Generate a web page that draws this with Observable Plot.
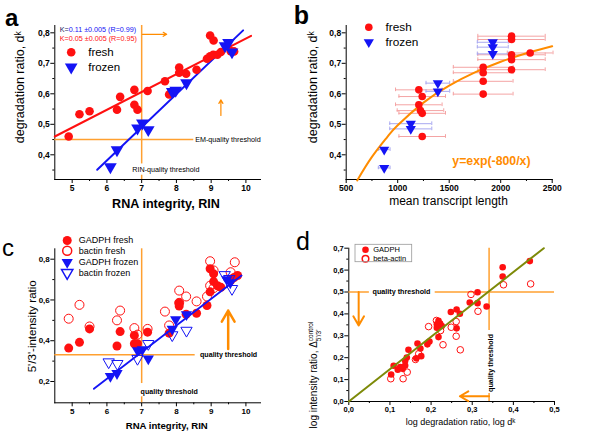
<!DOCTYPE html>
<html><head><meta charset="utf-8">
<script src="https://cdn.jsdelivr.net/npm/d3@7"></script>
<script src="https://cdn.jsdelivr.net/npm/@observablehq/plot@0.6"></script>
<style>
html,body{margin:0;padding:0;background:#fff;}
#fig{position:relative;width:600px;height:435px;overflow:hidden;background:#fff;}
#fig svg{overflow:visible;}
</style></head><body><div id="fig"></div>
<script>
// ---------- Panel a: degradation ratio vs RIN ----------
const aFreshRIN = [4.9,5.21,5.5,6.29,6.38,6.79,6.79,6.88,7.17,7.67,7.79,8.08,8.08,8.28,8.58,8.88,8.97,9.07,8.97,9.06,9.18,9.28,9.56,9.66];
const aFreshD   = [0.46,0.533,0.543,0.548,0.59,0.613,0.564,0.548,0.609,0.641,0.598,0.686,0.669,0.666,0.679,0.715,0.791,0.775,0.723,0.728,0.728,0.737,0.74,0.739];
const aFrozenRIN = [6.1,6.29,6.88,7.02,7.19,7.88,7.98,8.29,9.4,9.5,9.6];
const aFrozenD   = [0.36,0.416,0.487,0.504,0.482,0.607,0.611,0.636,0.757,0.768,0.737];
const aFitFreshX = [4.5,10.15], aFitFreshY = [0.46,0.79];
const aFitFrozenX = [5.72,9.92], aFitFrozenY = [0.351,0.808];
const aRinThreshold = 7, aEmThreshold = 0.45;
const aFitLabels = ["K=", "0.11 \u00b10.005 (R=0.99)", "K=0.05 \u00b10.005 (R=0.95)"];
const aXTicks = [5,6,7,8,9,10], aYTicks = [0.4,0.5,0.6,0.7,0.8];

// ---------- Panel b: degradation ratio vs mean transcript length ----------
const bFreshLen = [2105,2105,2286,2105,2105,2105,1830,1830,1830,1830,1205,1238,1205,1221,1238,1238];
const bFreshD   = [0.789,0.778,0.734,0.728,0.712,0.679,0.687,0.669,0.641,0.599,0.613,0.591,0.564,0.545,0.536,0.46];
const bFreshErr = [327,327,222,327,327,327,290,290,290,290,226,226,226,226,226,226];
const bFrozenLen = [1923,1923,1923,1390,1390,1127,1127,869,869];
const bFrozenD   = [0.769,0.753,0.731,0.635,0.608,0.502,0.485,0.417,0.357];
const bFrozenErr = [150,150,150,115,115,204,204,57,57];
const bCurveLen = [607,750,900,1000,1250,1500,1750,2000,2250,2500];
const bCurveD   = [0.316,0.393,0.459,0.497,0.571,0.627,0.670,0.705,0.733,0.756];
const bXTicks = [500,1000,1500,2000,2500], bYTicks = [0.4,0.5,0.6,0.7,0.8];

// ---------- Panel c: 5'/3' intensity ratio vs RIN ----------
const cGapdhFreshRIN = [4.9,5.21,5.5,6.29,6.38,6.79,6.88,6.79,7.17,7.79,8.08,8.08,8.28,8.58,8.88,8.97,9.07,8.97,9.07,9.18,9.28,9.56,9.66,9.76];
const cGapdhFreshR   = [0.364,0.392,0.458,0.374,0.445,0.385,0.385,0.426,0.442,0.437,0.57,0.586,0.53,0.535,0.573,0.753,0.728,0.64,0.69,0.67,0.662,0.695,0.71,0.72];
const cBactinFreshRIN = [4.9,5.21,5.5,6.29,6.38,6.79,6.88,7.17,7.67,7.79,8.08,8.08,8.28,8.58,8.88,8.97,9.07,8.97,9.07,9.56,9.68];
const cBactinFreshR   = [0.508,0.576,0.47,0.5,0.548,0.462,0.43,0.458,0.543,0.475,0.646,0.586,0.617,0.593,0.617,0.79,0.745,0.67,0.658,0.736,0.785];
const cGapdhFrozenRIN = [6.1,6.29,6.88,7.02,7.19,7.88,7.98,8.29,9.45,9.55];
const cGapdhFrozenR   = [0.226,0.24,0.352,0.357,0.312,0.458,0.504,0.529,0.7,0.685];
const cBactinFrozenRIN = [6.05,6.3,6.88,7.19,7.88,8.29,9.39,9.52,9.6];
const cBactinFrozenR   = [0.295,0.287,0.312,0.385,0.428,0.45,0.723,0.704,0.655];
const cFitX = [5.625,9.875], cFitY = [0.164,0.72];
const cRinThreshold = 7, cRatioThreshold = 0.331;
const cXTicks = [5,6,7,8,9,10], cYTicks = [0.2,0.4,0.6,0.8];

// ---------- Panel d: log intensity ratio vs log degradation ratio ----------
const dGapdhX = [0.103,0.109,0.119,0.125,0.131,0.137,0.137,0.141,0.145,0.164,0.167,0.174,0.176,0.191,0.196,0.214,0.218,0.222,0.226,0.214,0.218,0.248,0.262,0.270,0.262,0.294,0.313,0.313,0.335,0.374,0.374,0.440];
const dGapdhY = [0.123,0.163,0.145,0.157,0.149,0.164,0.186,0.201,0.236,0.197,0.265,0.242,0.207,0.261,0.274,0.353,0.368,0.356,0.345,0.337,0.294,0.409,0.42,0.401,0.334,0.452,0.449,0.499,0.434,0.571,0.613,0.641];
const dActinX = [0.102,0.132,0.142,0.162,0.170,0.194,0.213,0.223,0.229,0.249,0.261,0.261,0.271,0.297,0.314,0.376,0.442];
const dActinY = [0.104,0.104,0.134,0.192,0.218,0.342,0.37,0.324,0.259,0.339,0.365,0.298,0.236,0.489,0.412,0.533,0.537];
const dFitX = [0,0.474], dFitY = [0,0.7];
const dXThreshold = 0.341, dYThreshold = 0.5;
const dXTicks = [0,0.1,0.2,0.3,0.4,0.5], dYTicks = [0,0.1,0.2,0.3,0.4,0.5,0.6,0.7];

// ---------- styling ----------
const FONT = '"Liberation Sans", Arial, Helvetica, sans-serif';
const RED = "#ff1010", BLUE = "#1414f5", ORANGE = "#ffa030", ARROW = "#ff8c00", OLIVE = "#7d8a08";
const comma = d => d.toFixed(1).replace(".", ",");
const fig = document.getElementById("fig");

function axes(xT, xM, yT, yM, xFmt, yFmt, fs) {
  return [
    Plot.axisX(xM, {tickSize: 2, tickFormat: () => "", label: null}),
    Plot.axisY(yM, {tickSize: 2, tickFormat: () => "", label: null}),
    Plot.axisX(xT, {tickSize: 4, tickPadding: 1.5, tickFormat: xFmt, fontSize: fs, fontWeight: "bold", label: null}),
    Plot.axisY(yT, {tickSize: 4, tickPadding: 1, tickFormat: yFmt, fontSize: fs, fontWeight: "bold", label: null}),
    Plot.frame({anchor: "bottom"}),
    Plot.frame({anchor: "left"})
  ];
}
function place(svg, left, top) {
  svg.style.position = "absolute";
  svg.style.left = left + "px";
  svg.style.top = top + "px";
  fig.appendChild(svg);
  return svg;
}
function letter(svg, txt, x, y, size, weight) {
  d3.select(svg).append("text").attr("x", x).attr("y", y)
    .attr("font-family", FONT).attr("font-size", size).attr("font-weight", weight)
    .attr("fill", "black").text(txt);
}
const tri = {symbol: "triangle", rotate: 180};

// ---------- Panel a ----------
const svgA = Plot.plot({
  width: 300, height: 215,
  marginLeft: 54.3, marginRight: 40, marginTop: 25, marginBottom: 36,
  x: {domain: [4.5, 10.42]}, y: {domain: [0.319, 0.824]},
  style: {fontFamily: FONT, background: "none", color: "black"},
  marks: [
    ...axes(aXTicks, [5.5,6.5,7.5,8.5,9.5], aYTicks, [0.35,0.45,0.55,0.65,0.75], d => String(d), comma, 8.5),
    Plot.ruleX([aRinThreshold], {y1: 0.37, y2: 0.824, stroke: ORANGE, strokeWidth: 1.5}),
    Plot.ruleX([aRinThreshold], {y1: 0.319, y2: 0.333, stroke: ORANGE, strokeWidth: 1.5}),
    Plot.ruleY([aEmThreshold], {x1: 4.5, x2: 8.5, stroke: ORANGE, strokeWidth: 1.5}),
    Plot.text(["EM-quality threshold"], {x: 8.54, y: aEmThreshold, textAnchor: "start", lineAnchor: "middle", fontSize: 7.2}),
    Plot.text(["RIN-quality threshold"], {x: 6.73, y: 0.351, textAnchor: "start", lineAnchor: "middle", fontSize: 7.2}),
    Plot.arrow([0], {x1: 7.02, y1: 0.795, x2: 7.72, y2: 0.795, stroke: ARROW, strokeWidth: 1.2, headLength: 5}),
    Plot.arrow([0], {x1: 9.28, y1: 0.529, x2: 9.28, y2: 0.58, stroke: ARROW, strokeWidth: 1.2, headLength: 5}),
    Plot.line(aFitFreshX, {x: aFitFreshX, y: aFitFreshY, stroke: RED, strokeWidth: 2}),
    Plot.line(aFitFrozenX, {x: aFitFrozenX, y: aFitFrozenY, stroke: BLUE, strokeWidth: 2}),
    Plot.dot(aFreshRIN, {x: aFreshRIN, y: aFreshD, r: 4.3, fill: RED}),
    Plot.dot(aFrozenRIN, {x: aFrozenRIN, y: aFrozenD, r: 4.7, fill: BLUE, ...tri}),
    Plot.dot([0], {frameAnchor: "top-left", dx: 16.4, dy: 26.7, r: 4.3, fill: RED}),
    Plot.dot([0], {frameAnchor: "top-left", dx: 16.4, dy: 41.7, r: 4.7, fill: BLUE, ...tri}),
    Plot.text(["fresh"], {frameAnchor: "top-left", dx: 33.4, dy: 26.7, textAnchor: "start", lineAnchor: "middle", fontSize: 11.5}),
    Plot.text(["frozen"], {frameAnchor: "top-left", dx: 33.4, dy: 41.7, textAnchor: "start", lineAnchor: "middle", fontSize: 11.5}),
    Plot.text([aFitLabels[0]], {frameAnchor: "top-left", dx: 5, dy: 4.3, textAnchor: "start", lineAnchor: "middle", fontSize: 7.2, fill: "#1c1c5c"}),
    Plot.text([aFitLabels[1]], {frameAnchor: "top-left", dx: 13.9, dy: 4.3, textAnchor: "start", lineAnchor: "middle", fontSize: 7.2, fill: BLUE}),
    Plot.text([aFitLabels[2]], {frameAnchor: "top-left", dx: 5, dy: 13.3, textAnchor: "start", lineAnchor: "middle", fontSize: 7.2, fill: RED}),
    Plot.text(["degradation ratio, d\u1d4f"], {frameAnchor: "left", rotate: -90, dx: -35.3, dy: -15.3, textAnchor: "middle", lineAnchor: "middle", fontSize: 12.5}),
    Plot.text(["RNA integrity, RIN"], {frameAnchor: "bottom", dx: 8.3, dy: 28.3, textAnchor: "middle", lineAnchor: "bottom", fontSize: 12.6, fontWeight: "bold"})
  ]
});
place(svgA, 0, 0);
letter(svgA, "a", 11.7, 26, 24, "bold");

// ---------- Panel b ----------
const bFreshLo = bFreshLen.map((v, i) => v - bFreshErr[i]), bFreshHi = bFreshLen.map((v, i) => v + bFreshErr[i]);
const bFrozenLo = bFrozenLen.map((v, i) => v - bFrozenErr[i]), bFrozenHi = bFrozenLen.map((v, i) => v + bFrozenErr[i]);
const capF = [...bFreshLo, ...bFreshHi], capFy = [...bFreshD, ...bFreshD];
const capZ = [...bFrozenLo, ...bFrozenHi], capZy = [...bFrozenD, ...bFrozenD];
const svgB = Plot.plot({
  width: 300, height: 215,
  marginLeft: 45.7, marginRight: 48.3, marginTop: 25, marginBottom: 36,
  x: {domain: [500, 2500]}, y: {domain: [0.319, 0.824]},
  style: {fontFamily: FONT, background: "none", color: "black"},
  marks: [
    ...axes(bXTicks, [750,1250,1750,2250], bYTicks, [0.35,0.45,0.55,0.65,0.75], d => String(d), comma, 8.5),
    Plot.ruleY(bFreshD, {y: bFreshD, x1: bFreshLo, x2: bFreshHi, stroke: "#f4a4a4", strokeWidth: 1}),
    Plot.ruleX(capF, {x: capF, y1: capFy.map(v => v - 0.006), y2: capFy.map(v => v + 0.006), stroke: "#f4a4a4", strokeWidth: 1}),
    Plot.ruleY(bFrozenD, {y: bFrozenD, x1: bFrozenLo, x2: bFrozenHi, stroke: "#a8a8f0", strokeWidth: 1}),
    Plot.ruleX(capZ, {x: capZ, y1: capZy.map(v => v - 0.006), y2: capZy.map(v => v + 0.006), stroke: "#a8a8f0", strokeWidth: 1}),
    Plot.line(bCurveLen, {x: bCurveLen, y: bCurveD, stroke: ARROW, strokeWidth: 2, curve: "natural"}),
    Plot.dot(bFreshLen, {x: bFreshLen, y: bFreshD, r: 3.8, fill: RED}),
    Plot.dot(bFrozenLen, {x: bFrozenLen, y: bFrozenD, r: 3.8, fill: BLUE, ...tri}),
    Plot.text(["y=exp(-800/x)"], {x: 1530, y: 0.381, textAnchor: "start", lineAnchor: "middle", fontSize: 12.3, fontWeight: "bold", fill: ARROW}),
    Plot.dot([0], {frameAnchor: "top-left", dx: 22.6, dy: 1.7, r: 3.8, fill: RED}),
    Plot.dot([0], {frameAnchor: "top-left", dx: 22.6, dy: 16.7, r: 3.8, fill: BLUE, ...tri}),
    Plot.text(["fresh"], {frameAnchor: "top-left", dx: 39.3, dy: 1.7, textAnchor: "start", lineAnchor: "middle", fontSize: 11.8}),
    Plot.text(["frozen"], {frameAnchor: "top-left", dx: 39.3, dy: 16.7, textAnchor: "start", lineAnchor: "middle", fontSize: 11.8}),
    Plot.text(["degradation ratio, d\u1d4f"], {frameAnchor: "left", rotate: -90, dx: -33.4, dy: -15.3, textAnchor: "middle", lineAnchor: "middle", fontSize: 12.5}),
    Plot.text(["mean transcript length"], {frameAnchor: "bottom", dx: -0.7, dy: 25.3, textAnchor: "middle", lineAnchor: "bottom", fontSize: 12})
  ]
});
place(svgB, 300, 0);
letter(svgB, "b", 1.5, 24, 25, "bold");

// ---------- Panel c ----------
const svgC = Plot.plot({
  width: 300, height: 220,
  marginLeft: 54.3, marginRight: 40, marginTop: 33.3, marginBottom: 32.7,
  x: {domain: [4.5, 10.42]}, y: {domain: [0.0955, 0.851]},
  style: {fontFamily: FONT, background: "none", color: "black"},
  marks: [
    ...axes(cXTicks, [5.5,6.5,7.5,8.5,9.5], cYTicks, [0.3,0.5,0.7], d => String(d), comma, 8),
    Plot.ruleX([cRinThreshold], {y1: 0.19, y2: 0.851, stroke: ORANGE, strokeWidth: 1.5}),
    Plot.ruleX([cRinThreshold], {y1: 0.0955, y2: 0.125, stroke: ORANGE, strokeWidth: 1.5}),
    Plot.ruleY([cRatioThreshold], {x1: 4.5, x2: 8.54, stroke: ORANGE, strokeWidth: 1.5}),
    Plot.text(["quality threshold"], {x: 8.68, y: cRatioThreshold, textAnchor: "start", lineAnchor: "middle", fontSize: 7.1, fontWeight: "bold"}),
    Plot.text(["quality threshold"], {x: 6.97, y: 0.151, textAnchor: "start", lineAnchor: "middle", fontSize: 7.1, fontWeight: "bold"}),
    Plot.arrow([0], {x1: 9.49, y1: 0.36, x2: 9.49, y2: 0.548, stroke: ARROW, strokeWidth: 2.5, headLength: 9}),
    Plot.dot(cGapdhFreshRIN, {x: cGapdhFreshRIN, y: cGapdhFreshR, r: 4.5, fill: RED}),
    Plot.dot(cBactinFreshRIN, {x: cBactinFreshRIN, y: cBactinFreshR, r: 4.5, fill: "none", stroke: RED, strokeWidth: 1}),
    Plot.line(cFitX, {x: cFitX, y: cFitY, stroke: BLUE, strokeWidth: 1.8}),
    Plot.dot(cGapdhFrozenRIN, {x: cGapdhFrozenRIN, y: cGapdhFrozenR, r: 4.2, fill: BLUE, ...tri}),
    Plot.dot(cBactinFrozenRIN, {x: cBactinFrozenRIN, y: cBactinFrozenR, r: 4.2, fill: "none", stroke: BLUE, strokeWidth: 1, ...tri}),
    Plot.dot([0], {frameAnchor: "top-left", dx: 12.4, dy: -8.3, r: 4.5, fill: RED}),
    Plot.dot([0], {frameAnchor: "top-left", dx: 12.4, dy: 2.0, r: 4.5, fill: "none", stroke: RED}),
    Plot.dot([0], {frameAnchor: "top-left", dx: 12.4, dy: 13.4, r: 4.2, fill: BLUE, ...tri}),
    Plot.dot([0], {frameAnchor: "top-left", dx: 12.4, dy: 24, r: 4.2, fill: "none", stroke: BLUE, ...tri}),
    Plot.text(["GADPH fresh"], {frameAnchor: "top-left", dx: 24, dy: -8.3, textAnchor: "start", lineAnchor: "middle", fontSize: 9}),
    Plot.text(["bactin fresh"], {frameAnchor: "top-left", dx: 24, dy: 2.0, textAnchor: "start", lineAnchor: "middle", fontSize: 9}),
    Plot.text(["GADPH frozen"], {frameAnchor: "top-left", dx: 24, dy: 13.4, textAnchor: "start", lineAnchor: "middle", fontSize: 9}),
    Plot.text(["bactin frozen"], {frameAnchor: "top-left", dx: 24, dy: 24, textAnchor: "start", lineAnchor: "middle", fontSize: 9}),
    Plot.text(["5'/3'-intensity ratio"], {frameAnchor: "left", rotate: -90, dx: -22.6, dy: 0.5, textAnchor: "middle", lineAnchor: "middle", fontSize: 11.5}),
    Plot.text(["RNA integrity, RIN"], {frameAnchor: "bottom", dx: 9.1, dy: 26.4, textAnchor: "middle", lineAnchor: "bottom", fontSize: 9.6, fontWeight: "bold"})
  ]
});
place(svgC, 0, 215);
letter(svgC, "c", 8, 40.7, 24, "normal");

// ---------- Panel d ----------
const svgD = Plot.plot({
  width: 300, height: 220,
  marginLeft: 48.3, marginRight: 46, marginTop: 32.7, marginBottom: 34,
  x: {domain: [0, 0.5]}, y: {domain: [0, 0.7]},
  style: {fontFamily: FONT, background: "none", color: "black"},
  marks: [
    ...axes(dXTicks, [0.05,0.15,0.25,0.35,0.45], dYTicks, [0.05,0.15,0.25,0.35,0.45,0.55,0.65], comma, comma, 7.5),
    Plot.ruleY([dYThreshold], {x1: 0, x2: 0.05, stroke: ORANGE, strokeWidth: 1.5}),
    Plot.ruleY([dYThreshold], {x1: 0.21, x2: 0.5, stroke: ORANGE, strokeWidth: 1.5}),
    Plot.ruleX([dXThreshold], {y1: 0.324, y2: 0.7, stroke: ORANGE, strokeWidth: 1.5}),
    Plot.ruleX([dXThreshold], {y1: 0, y2: 0.037, stroke: ORANGE, strokeWidth: 1.5}),
    Plot.text(["quality threshold"], {x: 0.128, y: dYThreshold, textAnchor: "middle", lineAnchor: "middle", fontSize: 7.2, fontWeight: "bold"}),
    Plot.text(["quality threshold"], {x: 0.345, y: 0.176, rotate: -90, textAnchor: "middle", lineAnchor: "middle", fontSize: 7.2, fontWeight: "bold"}),
    Plot.arrow([0], {x1: 0.024, y1: 0.5, x2: 0.024, y2: 0.347, stroke: ARROW, strokeWidth: 2, headLength: 8}),
    Plot.arrow([0], {x1: 0.341, y1: 0.024, x2: 0.27, y2: 0.024, stroke: ARROW, strokeWidth: 2, headLength: 8}),
    Plot.dot(dActinX, {x: dActinX, y: dActinY, r: 3.3, fill: "none", stroke: RED, strokeWidth: 1}),
    Plot.dot(dGapdhX, {x: dGapdhX, y: dGapdhY, r: 3.3, fill: RED}),
    Plot.line(dFitX, {x: dFitX, y: dFitY, stroke: OLIVE, strokeWidth: 2}),
    Plot.dot([0], {frameAnchor: "top-left", dx: 16.7, dy: 1.6, r: 3.3, fill: RED}),
    Plot.dot([0], {frameAnchor: "top-left", dx: 16.7, dy: 10.6, r: 3.3, fill: "none", stroke: RED}),
    Plot.text(["GADPH"], {frameAnchor: "top-left", dx: 24.4, dy: 1.6, textAnchor: "start", lineAnchor: "middle", fontSize: 7.5}),
    Plot.text(["beta-actin"], {frameAnchor: "top-left", dx: 24.4, dy: 10.6, textAnchor: "start", lineAnchor: "middle", fontSize: 7.5}),
    Plot.text(["log degradation ratio, log d\u1d4f"], {frameAnchor: "bottom", dx: 8.8, dy: 23.3, textAnchor: "middle", lineAnchor: "bottom", fontSize: 9})
  ]
});
place(svgD, 300, 215);
d3.select(svgD).append("rect").attr("x", 55).attr("y", 29.3).attr("width", 56.7).attr("height", 17.4)
  .attr("fill", "none").attr("stroke", "#999").attr("stroke-width", 0.8);
{
  const t = d3.select(svgD).append("text").attr("transform", "translate(17,160) rotate(-90)")
    .attr("font-family", FONT).attr("font-size", 10).attr("fill", "black");
  t.append("tspan").text("log intensity ratio, \u0394");
  const sup = t.append("tspan").attr("font-size", 6.5).attr("dy", -4.5).text("control");
  const w = sup.node().getComputedTextLength();
  t.append("tspan").attr("font-size", 6.5).attr("dx", -w).attr("dy", 8).text("5'/3'");
}
letter(svgD, "d", 3, 35, 25, "normal");
</script></body></html>
